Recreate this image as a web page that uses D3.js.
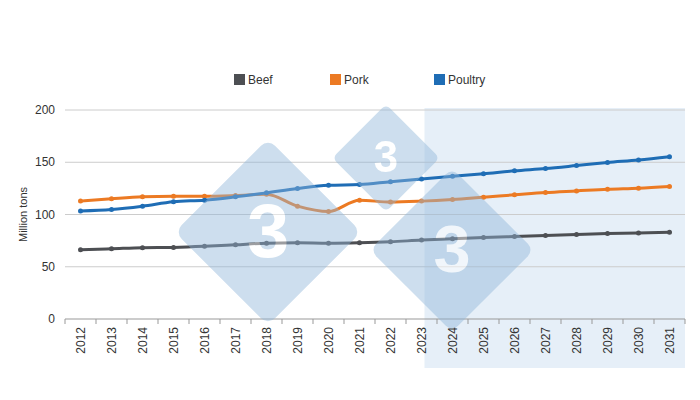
<!DOCTYPE html><html><head><meta charset="utf-8"><script src="https://cdn.jsdelivr.net/npm/d3@7"></script>
<style>body{margin:0;background:#fff}text{font-family:"Liberation Sans",Arial,sans-serif}</style></head><body>
<svg id="c" width="700" height="400"></svg>
<script>
const years=["2012","2013","2014","2015","2016","2017","2018","2019","2020","2021","2022","2023","2024","2025","2026","2027","2028","2029","2030","2031"];
const beef=[66.3,67.2,68.2,68.5,69.5,71,72.6,73,72.6,73,73.9,75.5,76.7,78,78.9,79.8,80.8,81.7,82.4,83];
const pork=[112.8,115,116.9,117.5,117.5,118.2,119.4,108,102.8,113.7,111.9,112.8,114.4,116.6,118.8,121,122.6,124.2,125.2,126.8];
const poultry=[103.4,104.8,108,112.2,113.7,116.9,120.7,124.8,127.9,128.6,131.4,134,136.5,139,141.8,144,146.8,149.7,152.2,155.3];
const yTicks=[0,50,100,150,200];
const forecastStart="2023";
const series=[{name:"Beef",values:beef,color:"#4d4f53"},{name:"Pork",values:pork,color:"#ec7a23"},{name:"Poultry",values:poultry,color:"#1f6db5"}];
const svg=d3.select("#c");
const L=65,R=685,T=110,B=319;
const x=d3.scaleBand().domain(years).range([L,R]);
const cx=d=>x(d)+x.bandwidth()/2;
const y=d3.scaleLinear().domain([0,200]).range([B,T]);
svg.append("rect").attr("x",cx(forecastStart)+3).attr("y",T-2).attr("width",R-cx(forecastStart)-3).attr("height",370-T).attr("fill","#e6eff8");
svg.append("g").selectAll("line").data(yTicks).join("line").attr("x1",L).attr("x2",R).attr("y1",d=>y(d)).attr("y2",d=>y(d)).attr("stroke",d=>d===0?"#999":"#ccc");
svg.append("g").selectAll("text").data(yTicks).join("text").attr("x",L-10).attr("y",d=>y(d)+4).attr("text-anchor","end").attr("font-size",12).attr("fill","#333").text(d=>d);
svg.append("g").selectAll("line").data(years.concat(["end"])).join("line").attr("x1",(d,i)=>L+i*x.bandwidth()).attr("x2",(d,i)=>L+i*x.bandwidth()).attr("y1",B).attr("y2",B+5).attr("stroke","#999");
svg.append("g").selectAll("text").data(years).join("text").attr("transform",d=>`translate(${cx(d)+4},${B+8}) rotate(-90)`).attr("text-anchor","end").attr("font-size",12).attr("fill","#333").text(d=>d);
svg.append("text").attr("transform",`translate(27,${(T+B)/2}) rotate(-90)`).attr("text-anchor","middle").attr("font-size",11).attr("fill","#333").text("Million tons");
const line=d3.line().x((d,i)=>cx(years[i])).y(d=>y(d)).curve(d3.curveMonotoneX);
series.forEach(s=>{
 svg.append("path").attr("d",line(s.values)).attr("fill","none").attr("stroke",s.color).attr("stroke-width",3);
 svg.append("g").selectAll("circle").data(s.values).join("circle").attr("cx",(d,i)=>cx(years[i])).attr("cy",d=>y(d)).attr("r",2.5).attr("fill",s.color);
});
const wm=svg.append("g").attr("opacity",0.45);
[[268,232,66],[386,158,38],[452,250,58]].forEach(([px,py,s])=>{
 const g=wm.append("g").attr("transform",`translate(${px},${py})`);
 g.append("rect").attr("x",-s).attr("y",-s).attr("width",2*s).attr("height",2*s).attr("rx",s*0.15).attr("transform","rotate(45)").attr("fill","#8fb6d8");
 g.append("text").attr("text-anchor","middle").attr("y",s*0.38).attr("font-size",s*1.15).attr("font-weight","bold").attr("fill","#fff").text("3");
});
const lx=[234,330,434];
series.forEach((s,i)=>{
 svg.append("rect").attr("x",lx[i]).attr("y",74).attr("width",11).attr("height",11).attr("fill",s.color);
 svg.append("text").attr("x",lx[i]+14).attr("y",84).attr("font-size",12).attr("fill","#333").text(s.name);
});
</script></body></html>
